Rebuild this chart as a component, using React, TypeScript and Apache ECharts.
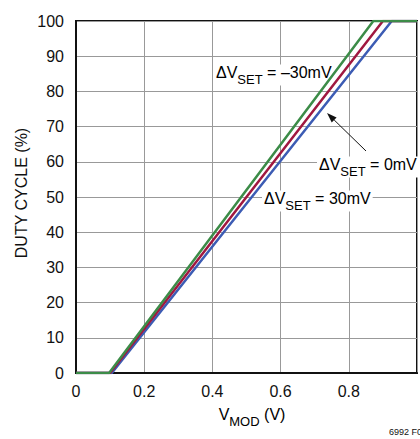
import React, { useEffect, useRef } from "react";
import * as echarts from "echarts";

const FONT = "'Liberation Sans', Arial, sans-serif";

// x (V_MOD, V) breakpoints and y (duty cycle, %) for each curve
const xNeg30 = [0, 0.097, 0.872, 1.0];
const yNeg30 = [0, 0, 100, 100];
const xZero = [0, 0.1, 0.9, 1.0];
const yZero = [0, 0, 100, 100];
const xPos30 = [0, 0.105, 0.926, 1.0];
const yPos30 = [0, 0, 100, 100];

const xTicks = [0, 0.2, 0.4, 0.6, 0.8];
const seriesNames = ["ΔVSET = 30mV", "ΔVSET = 0mV", "ΔVSET = –30mV"];
const colors = ["#3c5cb4", "#a01840", "#3c8c48"];

const zip = (xs: number[], ys: number[]) => xs.map((x, i) => [x, ys[i]]);

export default function App() {
  const ref = useRef<HTMLDivElement>(null);
  useEffect(() => {
    if (!ref.current) return;
    const chart = echarts.init(ref.current, undefined, { renderer: "svg" });
    const rich = {
      a: { fontFamily: FONT, fontSize: 16, color: "#111", lineHeight: 21, verticalAlign: "top" },
      s: { fontFamily: FONT, fontSize: 13, color: "#111", lineHeight: 21, verticalAlign: "bottom" },
    };
    const label = (x: number, y: number, pre: string, post: string) => ({
      type: "text",
      x,
      y,
      z: 1,
      style: {
        text: `{a|${pre}}{s|SET}{a|${post}}`,
        rich,
        backgroundColor: "#fff",
        padding: [0, 2, 0, 2],
        verticalAlign: "middle",
      },
    });
    const tip = [327, 113];
    const tail = [366, 151];
    const ang = Math.atan2(tail[1] - tip[1], tail[0] - tip[0]);
    const hl = 10, hw = 3.5;
    const bx = tip[0] + hl * Math.cos(ang), by = tip[1] + hl * Math.sin(ang);
    const head = [
      tip,
      [bx + hw * Math.sin(ang), by - hw * Math.cos(ang)],
      [bx - hw * Math.sin(ang), by + hw * Math.cos(ang)],
    ];
    chart.setOption({
      animation: false,
      grid: {
        left: 76, top: 21, width: 352, height: 352,
        show: true, borderColor: "#111", borderWidth: 2, backgroundColor: "transparent",
      },
      xAxis: {
        type: "value", min: 0, max: 1, interval: 0.2,
        axisLine: { show: true, lineStyle: { color: "#111", width: 2 } },
        axisTick: { show: false },
        splitLine: { show: true, lineStyle: { color: "#999", width: 1 } },
        axisLabel: {
          fontFamily: FONT, fontSize: 16, color: "#111", margin: 10,
          formatter: (v: number) => (xTicks.some((t) => Math.abs(t - v) < 1e-6) ? (v === 0 ? "0" : v.toFixed(1)) : ""),
        },
      },
      yAxis: {
        type: "value", min: 0, max: 100, interval: 10,
        axisLine: { show: true, lineStyle: { color: "#111", width: 2 } },
        axisTick: { show: false },
        splitLine: { show: true, lineStyle: { color: "#999", width: 1 } },
        axisLabel: { fontFamily: FONT, fontSize: 16, color: "#111", margin: 12 },
      },
      series: [
        { name: seriesNames[0], type: "line", data: zip(xPos30, yPos30), symbol: "none", lineStyle: { color: colors[0], width: 2.5 }, z: 3 },
        { name: seriesNames[1], type: "line", data: zip(xZero, yZero), symbol: "none", lineStyle: { color: colors[1], width: 2.5 }, z: 4 },
        { name: seriesNames[2], type: "line", data: zip(xNeg30, yNeg30), symbol: "none", lineStyle: { color: colors[2], width: 2.5 }, z: 5 },
      ],
      graphic: [
        label(214, 75, "ΔV", " = –30mV"),
        label(317, 167, "ΔV", " = 0mV"),
        label(262, 201, "ΔV", " = 30mV"),
        { type: "line", z: 50, shape: { x1: tail[0], y1: tail[1], x2: bx, y2: by }, style: { stroke: "#111", lineWidth: 1 } },
        { type: "polygon", z: 50, shape: { points: head }, style: { fill: "#111" } },
        {
          type: "text", x: 252, y: 417, z: 50,
          style: { text: "{a|V}{s|MOD}{a| (V)}", rich, align: "center", verticalAlign: "middle" },
        },
        {
          type: "text", x: 21, y: 193, rotation: Math.PI / 2, z: 50,
          style: { text: "DUTY CYCLE (%)", fontFamily: FONT, fontSize: 16, fill: "#111", align: "center", verticalAlign: "middle" },
        },
        {
          type: "text", x: 389, y: 432, z: 50,
          style: { text: "6992 F04", fontFamily: FONT, fontSize: 9, fill: "#111", verticalAlign: "middle" },
        },
      ],
    });
    return () => chart.dispose();
  }, []);
  return <div ref={ref} style={{ position: "absolute", left: 0, top: 0, width: 420, height: 439 }} />;
}
